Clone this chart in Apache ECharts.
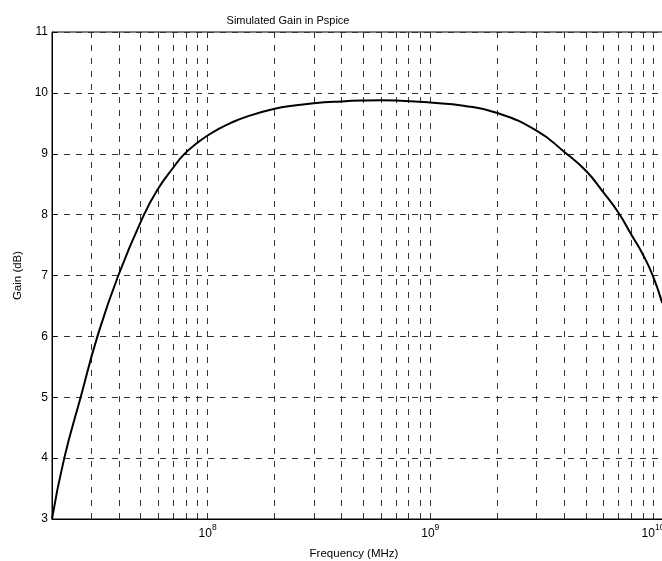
<!DOCTYPE html>
<html>
<head>
<meta charset="utf-8">
<script src="https://cdn.jsdelivr.net/npm/echarts@6/dist/echarts.min.js"></script>
<style>
html,body{margin:0;padding:0;background:#fff;}
#chart{width:662px;height:561px;}
</style>
</head>
<body>
<div id="chart"></div>
<script>
// Frequency points (x) and simulated gain in dB (y)
const freqHz = [2e7, 2.27e7, 2.69e7, 3.2e7, 3.97e7, 5.18e7, 6e7, 7e7, 7.83e7, 9e7,
  1e8, 1.13e8, 1.26e8, 1.5e8, 2e8, 2.5e8, 3e8, 4e8, 5e8, 6e8, 7e8,
  1e9, 1.41e9, 2e9, 3e9, 4e9, 5e9, 6e9, 7e9, 8e9, 9e9, 1e10, 1.1e10];
const gainDb = [3.0, 4.0, 5.0, 6.0, 7.0, 8.0, 8.43, 8.77, 8.99, 9.18,
  9.3, 9.415, 9.5, 9.61, 9.74, 9.795, 9.83, 9.86, 9.875, 9.88, 9.875,
  9.84, 9.79, 9.67, 9.38, 9.03, 8.72, 8.36, 8.03, 7.67, 7.35, 6.99, 6.55];

// Axis ranges and grid tick positions
const xMin = 2e7, xMax = 2e10;
const yMin = 3, yMax = 11, yStep = 1;
const gridFreqs = [3e7, 4e7, 5e7, 6e7, 7e7, 8e7, 9e7,
  1e8, 2e8, 3e8, 4e8, 5e8, 6e8, 7e8, 8e8, 9e8,
  1e9, 2e9, 3e9, 4e9, 5e9, 6e9, 7e9, 8e9, 9e9, 1e10];

const titleText = 'Simulated Gain in Pspice';
const xName = 'Frequency (MHz)';
const yName = 'Gain (dB)';

const FONT = '"Liberation Sans", Arial, Helvetica, sans-serif';
const chart = echarts.init(document.getElementById('chart'), null, {renderer: 'canvas'});

const lineData = freqHz.map((f, i) => [f, gainDb[i]]);

chart.setOption({
  animation: false,
  backgroundColor: '#fff',
  title: {
    text: titleText, left: 283, top: 10, textAlign: 'center',
    textStyle: {fontSize: 11, fontWeight: 'normal', color: '#000', fontFamily: FONT}
  },
  grid: {
    left: 52, top: 32, width: 668, height: 487,
    outerBoundsMode: 'none', containLabel: false,
    show: true, borderColor: '#000', borderWidth: 1, backgroundColor: 'transparent'
  },
  xAxis: {
    type: 'log', logBase: 10, min: xMin, max: xMax,
    axisLine: {show: true, lineStyle: {color: '#000', width: 1}},
    axisTick: {show: true, inside: true, length: 5, lineStyle: {color: '#000'}},
    splitLine: {show: false},
    axisLabel: {
      margin: 3, color: '#000', hideOverlap: false,
      formatter: function (v) {
        const l = Math.log10(v);
        const e = Math.round(l);
        if (Math.abs(l - e) > 1e-6) return '';
        return '{b|10}{s|' + e + '}';
      },
      rich: {
        b: {fontSize: 12, fontFamily: FONT, color: '#000', padding: [6, 0, 0, 0]},
        s: {fontSize: 8.5, fontFamily: FONT, color: '#000', padding: [0, 0, 6, 0]}
      }
    }
  },
  yAxis: {
    type: 'value', min: yMin, max: yMax, interval: yStep,
    name: yName, nameLocation: 'middle', nameGap: 26, nameRotate: 90,
    nameTextStyle: {fontSize: 11.5, color: '#000', fontFamily: FONT},
    axisLine: {show: true, lineStyle: {color: '#000', width: 1}},
    axisTick: {show: true, inside: true, length: 5, lineStyle: {color: '#000'}},
    axisLabel: {margin: 4, fontSize: 12, color: '#000', fontFamily: FONT},
    splitLine: {show: true, lineStyle: {type: [6, 6], color: '#333', width: 1}}
  },
  graphic: [{
    type: 'text', x: 354, y: 554,
    style: {text: xName, fill: '#000', fontSize: 11.5, fontFamily: FONT, align: 'center', verticalAlign: 'middle'}
  }],
  series: [
    {
      type: 'line', data: lineData, z: 1, silent: true,
      showSymbol: false, lineStyle: {opacity: 0},
      markLine: {
        silent: true, symbol: ['none', 'none'], animation: false,
        label: {show: false},
        lineStyle: {type: [6, 7], color: '#333', width: 1},
        data: gridFreqs.map(v => ({xAxis: v}))
      }
    },
    {
      type: 'line', data: lineData, z: 5, showSymbol: false, smooth: 0.5,
      lineStyle: {color: '#000', width: 2}
    }
  ]
});
</script>
</body>
</html>
